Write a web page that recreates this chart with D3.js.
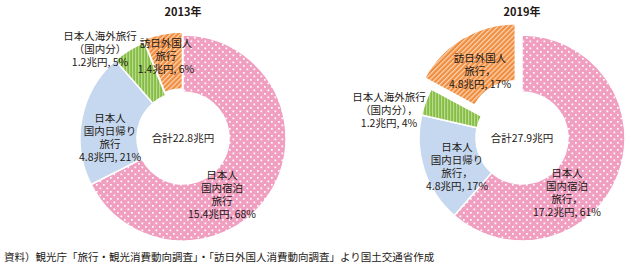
<!DOCTYPE html>
<html>
<head>
<meta charset="utf-8">
<script src="https://cdn.jsdelivr.net/npm/d3@7"></script>
<style>
  body { margin: 0; background: #fff; }
  svg { display: block; font-family: "Noto Sans CJK JP", "Noto Sans", sans-serif; }
  .lbl { font-size: 10.5px; fill: #231815; }
</style>
</head>
<body>
<svg id="chart" width="631" height="267"></svg>
<script>
// slice order: domestic overnight, domestic day trip, outbound (domestic part), inbound
const categories = ["stay", "day", "outbound", "inbound"];
const years = ["2013年", "2019年"];
const values2013 = [15.4, 4.8, 1.2, 1.4];
const values2019 = [17.2, 4.8, 1.2, 4.8];
const totals = ["合計22.8兆円", "合計27.9兆円"];
const labels2013 = [
    ["日本人", "国内宿泊", "旅行", "15.4兆円, 68%"],
    ["日本人", "国内日帰り", "旅行", "4.8兆円, 21%"],
    ["日本人海外旅行", "（国内分）", "1.2兆円, 5%"],
    ["訪日外国人", "旅行", "1.4兆円, 6%"]
];
const labels2019 = [
    ["日本人", "国内宿泊", "旅行，", "17.2兆円, 61%"],
    ["日本人", "国内日帰り", "旅行，", "4.8兆円, 17%"],
    ["日本人海外旅行", "（国内分），", "1.2兆円, 4%"],
    ["訪日外国人", "旅行，", "4.8兆円, 17%"]
];
const source = "資料）観光庁「旅行・観光消費動向調査」・「訪日外国人消費動向調査」より国土交通省作成";

const svg = d3.select("#chart");
const defs = svg.append("defs");

// patterns
const pDots = defs.append("pattern").attr("id", "p-stay")
    .attr("patternUnits", "userSpaceOnUse").attr("width", 7).attr("height", 7);
pDots.append("rect").attr("width", 7).attr("height", 7).attr("fill", "#F09FC1");
pDots.append("rect").attr("x", 0.5).attr("y", 0.5).attr("width", 1.7).attr("height", 1.7).attr("fill", "#fff");
pDots.append("rect").attr("x", 4).attr("y", 4).attr("width", 1.7).attr("height", 1.7).attr("fill", "#fff");

const pGreen = defs.append("pattern").attr("id", "p-outbound")
    .attr("patternUnits", "userSpaceOnUse").attr("width", 3).attr("height", 3);
pGreen.append("rect").attr("width", 3).attr("height", 3).attr("fill", "#86BE45");
pGreen.append("rect").attr("x", 0).attr("width", 1.2).attr("height", 3).attr("fill", "#B7DA8C");

const pOrange = defs.append("pattern").attr("id", "p-inbound")
    .attr("patternUnits", "userSpaceOnUse").attr("width", 3.5).attr("height", 3.5)
    .attr("patternTransform", "rotate(45)");
pOrange.append("rect").attr("width", 3.5).attr("height", 3.5).attr("fill", "#F08C3E");
pOrange.append("rect").attr("width", 1.3).attr("height", 3.5).attr("fill", "#FBD3B0");

const fills = {stay: "url(#p-stay)", day: "#C6D8EF", outbound: "url(#p-outbound)", inbound: "url(#p-inbound)"};

const outerR = 103, innerR = 46;
const arc = d3.arc().innerRadius(innerR).outerRadius(outerR);
const pie = d3.pie().sort(null).startAngle(0).endAngle(2 * Math.PI);

// layout of each donut (centre, exploded slice offset, label anchors)
const charts = [
    {cx: 183, cy: 138, explode: {inbound: 3}, values: values2013, labels: labels2013,
     labelPos: [[222, 175], [110, 118], [100, 36], [166, 43]]},
    {cx: 522, cy: 138, explode: {inbound: 13}, values: values2019, labels: labels2019,
     labelPos: [[567, 173], [457, 147], [389, 97], [480, 58]]}
];

charts.forEach((c, ci) => {
    const g = svg.append("g").attr("transform", `translate(${c.cx},${c.cy})`);
    const arcs = pie(c.values);
    g.selectAll("path")
        .data(arcs)
        .enter().append("path")
        .attr("d", arc)
        .attr("fill", (d, i) => fills[categories[i]])
        .attr("stroke", "#fff")
        .attr("stroke-width", 1.5)
        .attr("transform", (d, i) => {
            const off = c.explode[categories[i]] || 0;
            const a = (d.startAngle + d.endAngle) / 2;
            return `translate(${off * Math.sin(a)},${-off * Math.cos(a)})`;
        });

    // title
    svg.append("text")
        .attr("x", c.cx).attr("y", 16)
        .attr("text-anchor", "middle")
        .style("font-size", "11px").style("font-weight", "bold")
        .attr("fill", "#231815")
        .text(years[ci]);

    // total in the hole
    g.append("text")
        .attr("class", "lbl")
        .attr("text-anchor", "middle")
        .attr("dy", "0.35em")
        .text(totals[ci]);

    // slice labels, one text per line
    c.labels.forEach((lines, i) => {
        svg.append("g").selectAll("text")
            .data(lines)
            .enter().append("text")
            .attr("class", "lbl")
            .attr("text-anchor", "middle")
            .attr("x", c.labelPos[i][0])
            .attr("y", (s, k) => c.labelPos[i][1] + 4 + k * 13)
            .text(s => s);
    });
});

svg.append("text")
    .attr("class", "lbl")
    .attr("x", 4).attr("y", 261)
    .text(source);
</script>
</body>
</html>
